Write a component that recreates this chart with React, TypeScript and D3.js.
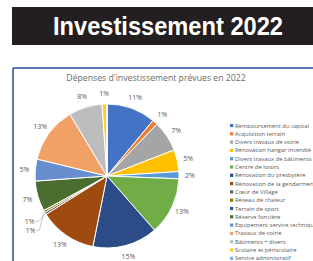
import React from "react";
import * as d3 from "d3";

const categories = [
  "Remboursement du capital",
  "Acquisition terrain",
  "Divers travaux de voirie",
  "Rénovation hangar incendié",
  "Divers travaux de bâtiments",
  "Centre de loisirs",
  "Rénovation du presbytère",
  "Rénovation de la gendarmerie",
  "Cœur de Village",
  "Réseau de chaleur",
  "Terrain de sport",
  "Réserve foncière",
  "Equipement service technique",
  "Travaux de voirie",
  "Bâtiments + divers",
  "Scolaire et périscolaire",
  "Service administratif",
];

const values = [11.0, 1.2, 6.9, 4.9, 1.6, 12.9, 14.6, 12.9, 0.5, 0.5, 0, 6.8, 4.9, 12.6, 7.5, 1.1, 0];

const colors = [
  "#4472C4", "#ED7D31", "#A5A5A5", "#FFC000", "#5B9BD5", "#70AD47", "#2B4C86", "#9E4A10",
  "#636363", "#997300", "#255E91", "#4A6E2F", "#698ED0", "#F1A066", "#BDBDBD", "#FFCD33", "#7CAFDD",
];

const pageTitle = "Investissement 2022";
const chartTitle = "Dépenses d'investissement prévues en 2022";

export default function App() {
  const W = 313, H = 261;
  const cx = 107, cy = 176, r = 72;
  const total = d3.sum(values);
  const pie = d3.pie<number>().sort(null).startAngle(0).endAngle(2 * Math.PI)(values);
  const arc = d3.arc<d3.PieArcDatum<number>>().innerRadius(0).outerRadius(r);
  const labelR = r + 11;
  const textColor = "#595959";
  const font = "'Open Sans', 'Liberation Sans', sans-serif";

  const legendX = 230;
  const legendY0 = 125.5;
  const legendStep = 8.3;
  const legendY = d3.scaleLinear().domain([0, categories.length - 1]).range([legendY0, legendY0 + legendStep * (categories.length - 1)]);

  let smallIdx = 0;

  return (
    <svg width={W} height={H} style={{ position: "absolute", left: 0, top: 0, background: "#fff" }}>
      <rect x={12} y={7} width={301} height={38} fill="#231F20" />
      <text
        x={168}
        y={34.5}
        textAnchor="middle"
        fill="#fff"
        fontFamily="'Liberation Sans', Arial, sans-serif"
        fontWeight="bold"
        fontSize={26}
        textLength={230}
        lengthAdjust="spacingAndGlyphs"
      >
        {pageTitle}
      </text>

      <line x1={13} y1={68} x2={313} y2={68} stroke="#2D4A9B" strokeWidth={1.5} />
      <line x1={13} y1={68} x2={13} y2={261} stroke="#2D4A9B" strokeWidth={1.5} />

      <text x={156} y={81} textAnchor="middle" fill="#6b6b6b" fontFamily={font} fontSize={8.7}>
        {chartTitle}
      </text>

      <g transform={`translate(${cx},${cy})`}>
        {pie.map((d, i) => (
          <path key={i} d={arc(d) || ""} fill={colors[i]} stroke="#fff" strokeWidth={1} />
        ))}
        {pie.map((d, i) => {
          if (d.value <= 0) return null;
          const pct = Math.round((d.value / total) * 100) + "%";
          const a = (d.startAngle + d.endAngle) / 2;
          if (d.value / total < 0.008) {
            const ax = Math.sin(a) * r;
            const ay = -Math.cos(a) * r;
            const k = smallIdx++;
            const ex = ax - 7 + k * 2;
            const ey = ay + 8 + k * 11;
            const hx = ex - 3;
            return (
              <g key={"l" + i}>
                <polyline
                  points={`${ax},${ay} ${ex},${ey} ${hx},${ey}`}
                  fill="none"
                  stroke="#A6A6A6"
                  strokeWidth={0.6}
                />
                <text x={hx - 1} y={ey} dy="0.35em" textAnchor="end" fill={textColor} fontFamily={font} fontSize={7}>
                  {pct}
                </text>
              </g>
            );
          }
          const x = Math.sin(a) * labelR;
          const y = -Math.cos(a) * labelR;
          return (
            <text key={"l" + i} x={x} y={y} dy="0.35em" textAnchor="middle" fill={textColor} fontFamily={font} fontSize={7}>
              {pct}
            </text>
          );
        })}
      </g>

      <g>
        {categories.map((c, i) => (
          <g key={c} transform={`translate(${legendX},${legendY(i)})`}>
            <rect x={0} y={-1.6} width={3.2} height={3.2} fill={colors[i]} />
            <text x={5} y={0} dy="0.35em" fill={textColor} fontFamily={font} fontSize={5.85}>
              {c}
            </text>
          </g>
        ))}
      </g>
    </svg>
  );
}
